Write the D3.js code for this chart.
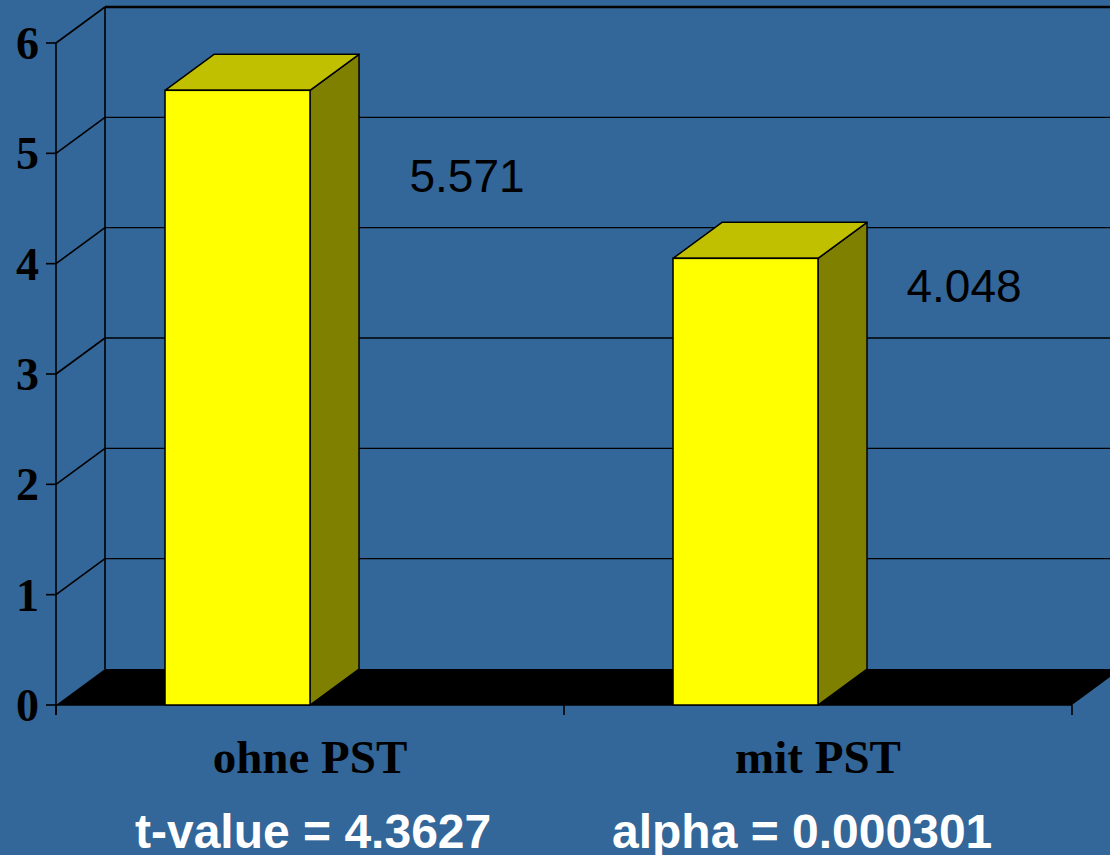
<!DOCTYPE html>
<html>
<head>
<meta charset="utf-8">
<script src="https://cdn.jsdelivr.net/npm/d3@7"></script>
<style>
html,body{margin:0;padding:0;background:#336699;}
svg{display:block;}
</style>
</head>
<body>
<script>
// ---- data ----
const categories = ["ohne PST", "mit PST"];
const values = [5.571, 4.048];
const valueLabels = ["5.571", "4.048"];
const yTicks = [0, 1, 2, 3, 4, 5, 6];
const footerTexts = ["t-value = 4.3627", "alpha = 0.000301"];

// ---- layout ----
const W = 1110, H = 855;
const dx = 49, dy = -36;               // 3D depth offset
const labelDx = [157, 146];            // value label x offset from band centre
const labelDy = [102, 44];             // value label baseline offset from bar top
const footerX = [135, 612];

const svg = d3.select("body").append("svg").attr("width", W).attr("height", H);
svg.append("rect").attr("width", W).attr("height", H).attr("fill", "#336699");

const y = d3.scaleLinear().domain([0, 6]).range([705, 43]);
const x = d3.scaleBand().domain(categories).range([56, 1072]);
const x0 = x.range()[0], x1 = x.range()[1];
const bw = x.bandwidth();

// back wall gridlines
svg.append("g").selectAll("line").data(yTicks.filter(d => d > 0)).join("line")
  .attr("x1", x0 + dx).attr("x2", x1 + dx + 60)
  .attr("y1", d => y(d) + dy).attr("y2", d => y(d) + dy)
  .attr("stroke", "#000").attr("stroke-width", d => d === 6 ? 2.5 : 1.3);

// side wall diagonals
svg.append("g").selectAll("line").data(yTicks.filter(d => d > 0)).join("line")
  .attr("x1", x0).attr("x2", x0 + dx)
  .attr("y1", d => y(d)).attr("y2", d => y(d) + dy)
  .attr("stroke", "#000").attr("stroke-width", 1.6);

// side wall back vertical
svg.append("line").attr("x1", x0 + dx).attr("x2", x0 + dx)
  .attr("y1", y(6) + dy).attr("y2", y(0) + dy)
  .attr("stroke", "#000").attr("stroke-width", 1.6);

// floor
svg.append("path")
  .attr("d", `M${x0},${y(0)} L${x1},${y(0)} L${x1 + dx},${y(0) + dy} L${x0 + dx},${y(0) + dy} Z`)
  .attr("fill", "#000");

// value axis
svg.append("line").attr("x1", x0).attr("x2", x0).attr("y1", y(6)).attr("y2", y(0) + 10)
  .attr("stroke", "#000").attr("stroke-width", 1.6);
svg.append("line").attr("x1", x0).attr("x2", x1).attr("y1", y(0)).attr("y2", y(0))
  .attr("stroke", "#000").attr("stroke-width", 1.6);
svg.append("g").selectAll("line").data(yTicks).join("line")
  .attr("x1", x0 - 10).attr("x2", x0).attr("y1", d => y(d)).attr("y2", d => y(d))
  .attr("stroke", "#000").attr("stroke-width", 1.6);
svg.append("g").selectAll("text").data(yTicks).join("text")
  .attr("x", 39).attr("y", d => y(d) + 16)
  .attr("text-anchor", "end")
  .attr("font-family", "'Liberation Serif','Times New Roman',serif")
  .attr("font-weight", "bold").attr("font-size", 46).attr("fill", "#000")
  .text(d => d);

// category ticks
const catTicks = categories.map(c => x(c)).concat([x1]);
svg.append("g").selectAll("line").data(catTicks).join("line")
  .attr("x1", d => d).attr("x2", d => d).attr("y1", y(0)).attr("y2", y(0) + 10)
  .attr("stroke", "#000").attr("stroke-width", 1.6);

// bars
const bars = svg.append("g").selectAll("g").data(categories).join("g");
bars.each(function (c, i) {
  const g = d3.select(this);
  const bx = x(c) + bw * 0.2146, bwid = bw * 0.2854;
  const yt = y(values[i]), yb = y(0);
  // side
  g.append("path")
    .attr("d", `M${bx + bwid},${yb} L${bx + bwid + dx},${yb + dy} L${bx + bwid + dx},${yt + dy} L${bx + bwid},${yt} Z`)
    .attr("fill", "#808000").attr("stroke", "#000").attr("stroke-width", 1.5).attr("stroke-linejoin", "round");
  // top
  g.append("path")
    .attr("d", `M${bx},${yt} L${bx + dx},${yt + dy} L${bx + bwid + dx},${yt + dy} L${bx + bwid},${yt} Z`)
    .attr("fill", "#C0C000").attr("stroke", "#000").attr("stroke-width", 1.5).attr("stroke-linejoin", "round");
  // front
  g.append("rect").attr("x", bx).attr("y", yt).attr("width", bwid).attr("height", yb - yt)
    .attr("fill", "#FFFF00").attr("stroke", "#000").attr("stroke-width", 1.5);
  // value label
  g.append("text")
    .attr("x", x(c) + bw / 2 + labelDx[i]).attr("y", yt + labelDy[i])
    .attr("text-anchor", "middle")
    .attr("font-family", "'Liberation Sans',Arial,sans-serif")
    .attr("font-size", 46).attr("fill", "#000")
    .text(valueLabels[i]);
});

// category labels
svg.append("g").selectAll("text").data(categories).join("text")
  .attr("x", d => x(d) + bw / 2).attr("y", 773)
  .attr("text-anchor", "middle")
  .attr("font-family", "'Liberation Serif','Times New Roman',serif")
  .attr("font-weight", "bold").attr("font-size", 47).attr("fill", "#000")
  .text(d => d);

// footer
svg.append("g").selectAll("text").data(footerTexts).join("text")
  .attr("x", (d, i) => footerX[i]).attr("y", 848)
  .attr("font-family", "'Liberation Sans',Arial,sans-serif")
  .attr("font-weight", "bold").attr("font-size", 48).attr("fill", "#fff")
  .text(d => d);
</script>
</body>
</html>
